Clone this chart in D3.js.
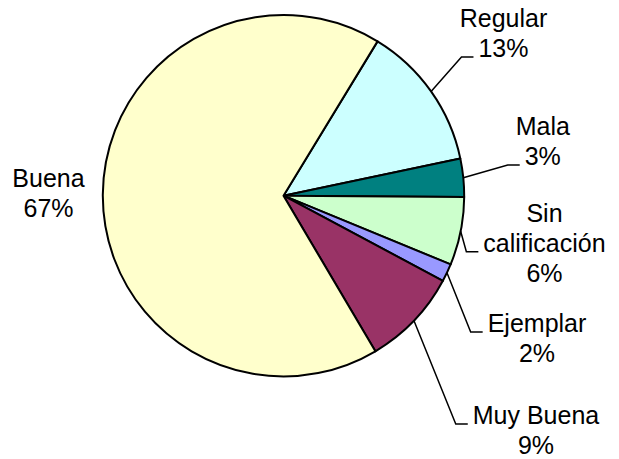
<!DOCTYPE html>
<html>
<head>
<meta charset="utf-8">
<script src="https://cdn.jsdelivr.net/npm/d3@7"></script>
<style>
body{margin:0;background:#fff}
text{font-family:Arial,"Liberation Sans",sans-serif;font-size:25px;fill:#000}
</style>
</head>
<body>
<div id="chart"></div>
<script>
let categories=["Regular","Mala","Sin calificación","Ejemplar","Muy Buena","Buena"];
let values=[13.0,3.4,6.1,1.6,8.7,67.2];
let colors=["#ccffff","#008080","#ccffcc","#9999ff","#993366","#ffffcc"];

let width=619, height=459;
let cx=283.5, cy=195.7, radius=180.7;
let startDeg=31.35;
let lineGap=30;

// label layout: text centre x and first baseline, relative to pie centre
let labelSpot={
    "Regular":[220,-168.7],
    "Mala":[259.3,-60.7],
    "Sin calificación":[261,26],
    "Ejemplar":[253.5,136.3],
    "Muy Buena":[252.5,228.3],
    "Buena":[-235,-8.4]
};
let wrapped={"Sin calificación":["Sin","calificación"]};
let noLeader=["Buena"];

let svg=d3.select("#chart").append("svg")
.attr("width",width)
.attr("height",height);

let rows=categories.map((c,i)=>({name:c,value:values[i],color:colors[i]}));
let total=d3.sum(values);

let start=startDeg*Math.PI/180;
let pie=d3.pie().sort(null).value(d=>d.value)
.startAngle(start).endAngle(start+2*Math.PI);
let arc=d3.arc().innerRadius(0).outerRadius(radius);

let g=svg.append("g").attr("transform","translate("+cx+","+cy+")");

g.selectAll("path")
.data(pie(rows))
.enter()
.append("path")
.attr("d",arc)
.attr("fill",d=>d.data.color)
.attr("stroke","#000")
.attr("stroke-width",2)
.attr("stroke-linejoin","round");

g.selectAll("g.lbl")
.data(pie(rows))
.enter()
.append("g")
.attr("class","lbl")
.each(function(d){
    let sel=d3.select(this);
    let spot=labelSpot[d.data.name];
    let lines=(wrapped[d.data.name]||[d.data.name]).concat([Math.round(d.data.value/total*100)+"%"]);
    let texts=lines.map((t,k)=>sel.append("text")
        .attr("x",spot[0])
        .attr("y",spot[1]+k*lineGap)
        .attr("text-anchor","middle")
        .text(t));

    if(noLeader.includes(d.data.name)) return;

    let mid=(d.startAngle+d.endAngle)/2;
    let px=radius*Math.sin(mid), py=-radius*Math.cos(mid);
    let first=spot[1], last=spot[1]+(lines.length-1)*lineGap;
    // which text line the leader meets
    let k= py<first ? 0 : (py>last ? lines.length-1 : Math.floor(lines.length/2));
    let w=texts[k].node().getComputedTextLength();
    let onLeft=spot[0]<0;
    let edge= onLeft ? spot[0]+w/2+5 : spot[0]-w/2-5;
    let elbow= onLeft ? edge+12 : edge-12;
    let ay=spot[1]+k*lineGap;

    sel.insert("polyline","text")
    .attr("points",[[px,py],[elbow,ay],[edge,ay]].join(" "))
    .attr("fill","none")
    .attr("stroke","#000")
    .attr("stroke-width",1.5);
});
</script>
</body>
</html>
